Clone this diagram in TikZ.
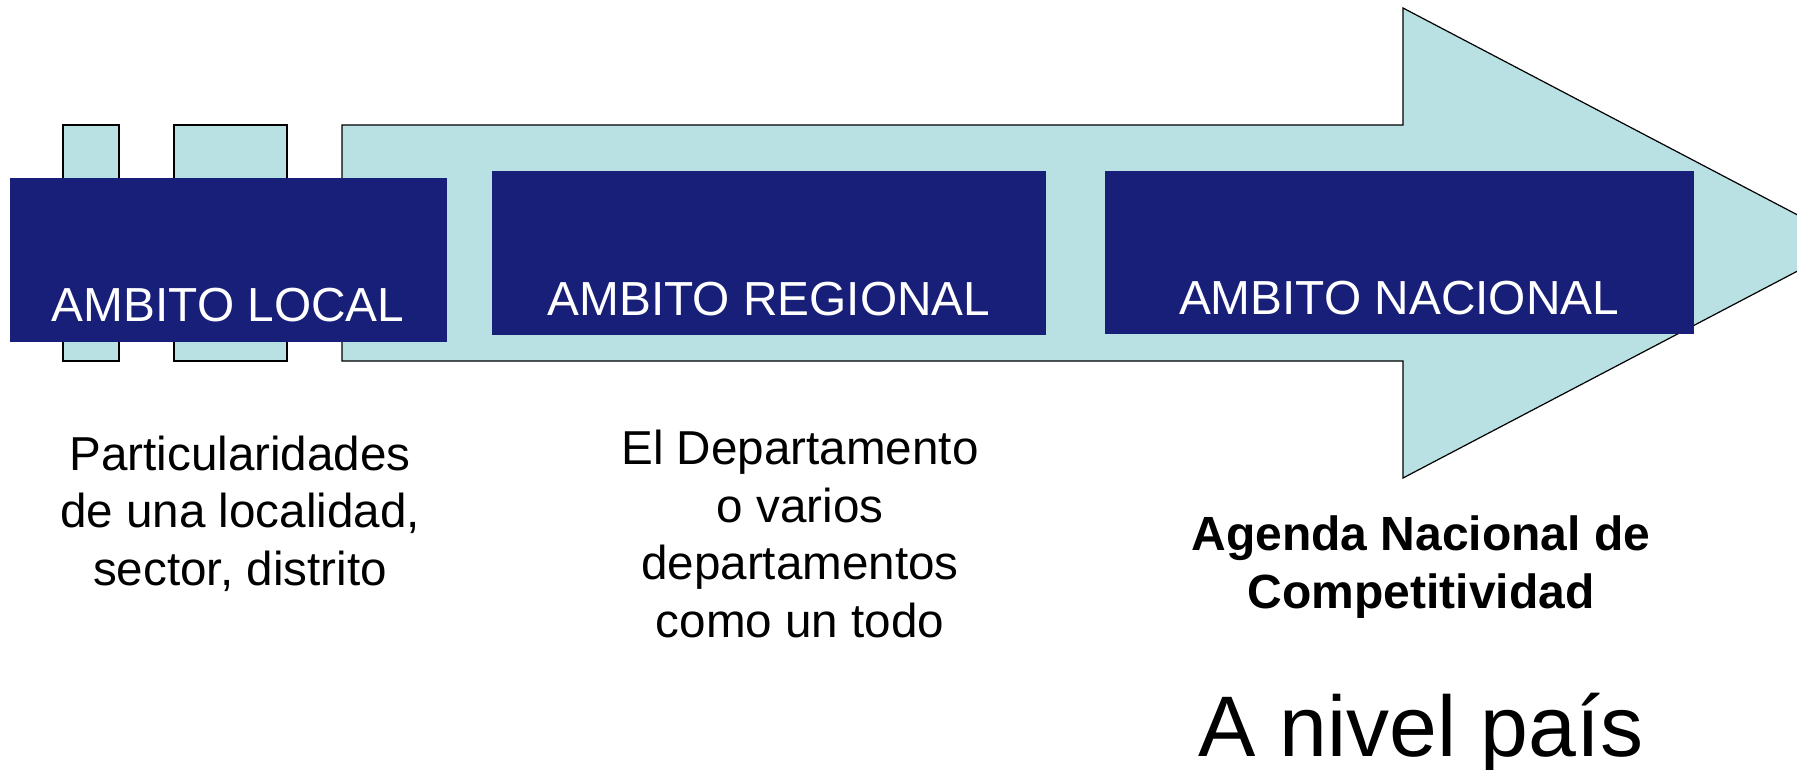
\documentclass[tikz,border=0pt]{standalone}
\usepackage[]{color}
\usepackage{fontspec}
\setmainfont{Liberation Sans}
\definecolor{ambitoazul}{RGB}{24,31,120}
\definecolor{flechaceleste}{RGB}{185,224,227}

\begin{document}
\begin{tikzpicture}[x=0.5pt,y=-0.5pt,
    flecha/.style={fill=flechaceleste, draw=black, line width=0.6pt},
    ambito/.style={fill=ambitoazul},
    ambitotxt/.style={text=white, anchor=base, inner sep=0pt, font=\fontsize{23.9}{28}\selectfont},
    nota/.style={align=center, anchor=base, inner sep=0pt, font=\fontsize{23.8}{28.7}\selectfont}]
\useasboundingbox (0,0) rectangle (1797,770);
\clip (0,0) rectangle (1797,770);

    \draw[flecha] (63,125) rectangle (119,361);
    \draw[flecha] (174,125) rectangle (287,361);
    \draw[flecha] (342,125) -- (1403,125) -- (1403,8) -- (1851,243)
        -- (1403,478) -- (1403,361) -- (342,361) -- cycle;

    \fill[ambito] (10,178) rectangle (447,342);
    \fill[ambito] (492,171) rectangle (1046,335);
    \fill[ambito] (1105,171) rectangle (1694,334);

    \node[ambitotxt] (local) at (228,321) {AMBITO LOCAL};
    \node[ambitotxt] (regional) at (769,315) {AMBITO REGIONAL};
    \node[ambitotxt] (nacional) at (1399,314) {AMBITO NACIONAL};

    % base = ultima linea
    \node[nota] (particular) at (240,585) {Particularidades\\de una localidad,\\sector, distrito};
    \node[nota] (departamento) at (800,637) {El Departamento\\o varios\\departamentos\\como un todo};
    \node[nota, font=\bfseries\fontsize{24}{28.7}\selectfont] (agenda) at (1421,608) {Agenda Nacional de\\Competitividad};
    \node[anchor=base, inner sep=0pt, font=\fontsize{43}{50}\selectfont] (pais) at (1421,756) {A nivel país};
\end{tikzpicture}
\end{document}
